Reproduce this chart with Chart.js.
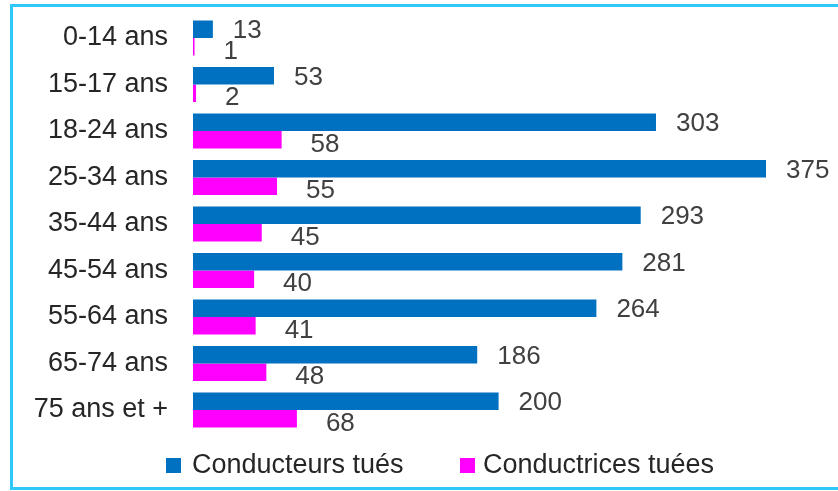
<!DOCTYPE html>
<html>
<head>
<meta charset="utf-8">
<script src="https://cdn.jsdelivr.net/npm/chart.js@4/dist/chart.umd.min.js"></script>
<style>
  html, body { margin: 0; padding: 0; background: #ffffff; }
  #wrap { position: relative; width: 838px; height: 491px; overflow: hidden; background: #ffffff; }
  #frame { position: absolute; left: 10px; top: 4px; width: 840px; height: 486px; box-sizing: border-box; border: 3px solid #30C8F8; pointer-events: none; }
  canvas { position: absolute; left: 0; top: 0; }
</style>
</head>
<body>
<div id="wrap">
  <canvas id="c" width="838" height="491"></canvas>
  <div id="frame"></div>
</div>
<script>
// ---- data ----
const categories = ['0-14 ans', '15-17 ans', '18-24 ans', '25-34 ans', '35-44 ans', '45-54 ans', '55-64 ans', '65-74 ans', '75 ans et +'];
const seriesNames = ['Conducteurs tués', 'Conductrices tuées'];
const conducteursTues = [13, 53, 303, 375, 293, 281, 264, 186, 200];
const conductricesTuees = [1, 2, 58, 55, 45, 40, 41, 48, 68];
const seriesColors = ['#0070C0', '#FF00FF'];

// ---- styling ----
const FONT = '"Liberation Sans", Arial, Helvetica, sans-serif';
const LABEL_OFFSETS = [{ dx: 20, dy: 2 }, { dx: 29, dy: 5 }];
const LEGEND_POS = [{ x: 166, y: 458, tx: 192 }, { x: 460, y: 458, tx: 483 }];

const valueLabels = {
  id: 'valueLabels',
  afterDatasetsDraw(chart) {
    const ctx = chart.ctx;
    ctx.save();
    ctx.font = '26px ' + FONT;
    ctx.fillStyle = '#404040';
    ctx.textAlign = 'left';
    ctx.textBaseline = 'middle';
    chart.data.datasets.forEach((ds, di) => {
      const meta = chart.getDatasetMeta(di);
      const off = LABEL_OFFSETS[di];
      meta.data.forEach((bar, i) => {
        ctx.fillText(String(ds.data[i]), bar.x + off.dx, bar.y + off.dy);
      });
    });
    ctx.restore();
  }
};

const bottomLegend = {
  id: 'bottomLegend',
  afterDraw(chart) {
    const ctx = chart.ctx;
    ctx.save();
    ctx.font = '27px ' + FONT;
    ctx.textAlign = 'left';
    ctx.textBaseline = 'middle';
    chart.data.datasets.forEach((ds, di) => {
      const p = LEGEND_POS[di];
      ctx.fillStyle = ds.backgroundColor;
      ctx.fillRect(p.x, p.y, 15, 15);
      ctx.fillStyle = '#262626';
      ctx.fillText(ds.label, p.tx, p.y + 8);
    });
    ctx.restore();
  }
};

new Chart(document.getElementById('c'), {
  type: 'bar',
  data: {
    labels: categories,
    datasets: [
      { label: seriesNames[0], data: conducteursTues, backgroundColor: seriesColors[0], borderWidth: 0 },
      { label: seriesNames[1], data: conductricesTuees, backgroundColor: seriesColors[1], borderWidth: 0 }
    ]
  },
  options: {
    indexAxis: 'y',
    responsive: false,
    animation: false,
    devicePixelRatio: 1,
    layout: { padding: { top: 14.75, bottom: 57.75, left: 0, right: 33.8 } },
    datasets: { bar: { categoryPercentage: 0.75, barPercentage: 1.0 } },
    plugins: { legend: { display: false }, tooltip: { enabled: false } },
    scales: {
      x: { display: false, min: 0, max: 400 },
      y: {
        grid: { display: false, drawTicks: false },
        border: { display: false },
        ticks: { color: '#262626', font: { family: FONT, size: 27 }, padding: 25 },
        afterFit(scale) {
          scale.width = 193;
          scale.paddingTop = 0;
          scale.paddingBottom = 0;
        }
      }
    }
  },
  plugins: [valueLabels, bottomLegend]
});
</script>
</body>
</html>
